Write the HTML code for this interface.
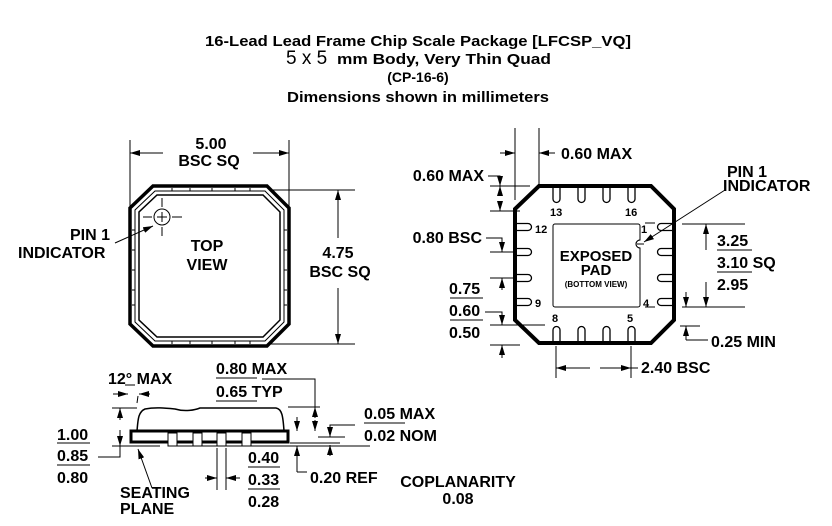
<!DOCTYPE html>
<html><head><meta charset="utf-8"><style>
html,body{margin:0;padding:0;background:#fff;}
svg{display:block;}
text{font-family:"Liberation Sans",Arial,sans-serif;font-weight:bold;fill:#000;}
</style></head><body>
<svg width="832" height="526" viewBox="0 0 832 526" xmlns="http://www.w3.org/2000/svg">
<defs>
<marker id="a" viewBox="0 0 10 6" refX="10" refY="3" markerWidth="10" markerHeight="6" markerUnits="userSpaceOnUse" orient="auto"><path d="M0,0 L10,3 L0,6 z" fill="#000"/></marker>
</defs>
<!-- Title -->
<g text-anchor="middle">
<text x="418" y="46" font-size="15" textLength="426" lengthAdjust="spacingAndGlyphs">16-Lead Lead Frame Chip Scale Package [LFCSP_VQ]</text>
<text x="286" y="64" font-size="19" style="font-weight:normal" text-anchor="start">5 x 5</text>
<text x="337" y="64" font-size="15" text-anchor="start" textLength="214" lengthAdjust="spacingAndGlyphs">mm Body, Very Thin Quad</text>
<text x="418" y="82" font-size="14">(CP-16-6)</text>
<text x="418" y="102" font-size="15" textLength="262" lengthAdjust="spacingAndGlyphs">Dimensions shown in millimeters</text>
</g>

<g stroke="#000" fill="none" stroke-width="1">
<!-- TOP VIEW -->
<path d="M153,186 H267 L289,208 V324 L267,346 H153 L130,324 V208 Z" stroke-width="3.5"/>
<path d="M155,191 H265 L284,210 V322 L265,341 H155 L135,322 V210 Z"/>
<path d="M157,195 H263 L280,212 V320 L263,337 H157 L139,320 V212 Z" stroke-width="1.5"/>
<g stroke-width="1">
<path d="M172,188 v3 M190,188 v3 M212,188 v3 M235,188 v3 M250,188 v3 M172,341 v3 M190,341 v3 M212,341 v3 M235,341 v3 M250,341 v3"/>
<path d="M132,230 h3 M132,250 h3 M132,270 h3 M132,290 h3 M132,305 h3 M284,230 h3 M284,250 h3 M284,270 h3 M284,290 h3 M284,305 h3"/>
</g>
<circle cx="162" cy="217" r="8"/>
<path d="M157,217 h10 M162,212 v10 M143,217 h9 M172,217 h10 M162,198 v9 M162,227 v9"/>
<path d="M115,243 L153,226" marker-end="url(#a)"/>
<!-- 5.00 dim -->
<path d="M130,140 V210 M289,140 V210"/>
<path d="M163,153 H130" marker-end="url(#a)"/><path d="M253,153 H289" marker-end="url(#a)"/>
<!-- 4.75 dim -->
<path d="M270,190 H355 M270,344 H355"/>
<path d="M338,238 V190" marker-end="url(#a)"/><path d="M338,288 V344" marker-end="url(#a)"/>

<!-- BOTTOM VIEW -->
<path d="M539,186 H651 L674,209 V320 L651,343 H539 L515,320 V209 Z" stroke-width="4"/>
<g stroke-width="1.3">
<path d="M553,186 V199 a3.5,3.5 0 0 0 7,0 V186 M578,186 V199 a3.5,3.5 0 0 0 7,0 V186 M603,186 V199 a3.5,3.5 0 0 0 7,0 V186 M628,186 V199 a3.5,3.5 0 0 0 7,0 V186"/>
<path d="M553,343 V330 a3.5,3.5 0 0 1 7,0 V343 M578,343 V330 a3.5,3.5 0 0 1 7,0 V343 M603,343 V330 a3.5,3.5 0 0 1 7,0 V343 M628,343 V330 a3.5,3.5 0 0 1 7,0 V343"/>
<path d="M515,223.5 H528 a3.5,3.5 0 0 1 0,7 H515 M515,248.5 H528 a3.5,3.5 0 0 1 0,7 H515 M515,274.5 H528 a3.5,3.5 0 0 1 0,7 H515 M515,298.5 H528 a3.5,3.5 0 0 1 0,7 H515"/>
<path d="M674,223.5 H661 a3.5,3.5 0 0 0 0,7 H674 M674,248.5 H661 a3.5,3.5 0 0 0 0,7 H674 M674,274.5 H661 a3.5,3.5 0 0 0 0,7 H674 M674,298.5 H661 a3.5,3.5 0 0 0 0,7 H674"/>
</g>
<path d="M555,224 H638 a2,2 0 0 1 2,2 V240 a4,4 0 0 0 0,8 V305 a2,2 0 0 1 -2,2 H555 a2,2 0 0 1 -2,-2 V226 a2,2 0 0 1 2,-2 Z"/>
<path d="M640,240 a4,4 0 0 0 0,8 M637,244 h7"/>
<path d="M645,223 h10 M645,307 h10"/>
<path d="M725,190 L644,242" marker-end="url(#a)"/>
<!-- 0.60 MAX top -->
<path d="M515,128 V200 M539,128 V186"/>
<path d="M500,153 H515" marker-end="url(#a)"/><path d="M555,153 H539" marker-end="url(#a)"/>
<!-- 0.60 MAX left -->
<path d="M488,176 H500 V186" /><path d="M500,176 V186" marker-end="url(#a)"/>
<path d="M490,186 H530 M490,211 H520"/>
<path d="M500,196 V186" marker-end="url(#a)"/><path d="M500,201 V211" marker-end="url(#a)"/>
<!-- 0.80 BSC -->
<path d="M486,238 H502 V252" marker-end="url(#a)"/>
<path d="M490,252 H515 M490,278 H515"/>
<path d="M502,290 V278" marker-end="url(#a)"/>
<!-- 0.75/0.60/0.50 -->
<path d="M450,298 H483 M450,320 H483"/>
<path d="M485,312 H502 V325" marker-end="url(#a)"/>
<path d="M490,325 H545 M490,345 H520"/>
<path d="M502,358 V345" marker-end="url(#a)"/>
<!-- 3.25 SQ -->
<path d="M682,224 H745 M682,307 H745"/>
<path d="M706,250 V224" marker-end="url(#a)"/><path d="M706,282 V307" marker-end="url(#a)"/>
<path d="M717,250 H752 M717,272 H752"/>
<!-- 0.25 MIN -->
<path d="M680,326 H700"/>
<path d="M686,292 V307" marker-end="url(#a)"/><path d="M686,340 H708"/><path d="M686,340 V326" marker-end="url(#a)"/>
<!-- 2.40 BSC -->
<path d="M556,346 V378 M631,346 V378"/>
<path d="M590,368 H556" marker-end="url(#a)"/><path d="M600,368 H631" marker-end="url(#a)"/>
<path d="M631,368 H638"/>

<!-- SIDE VIEW -->
<path d="M137,431 C138,420 138,412 145,409 C155,407 165,408 175,409 C185,412 195,410 200,408 H276 C282,409 283,416 284,431" stroke-width="1.5"/>
<rect x="131" y="431" width="157" height="11" stroke-width="3"/>
<g fill="#fff" stroke-width="1"><rect x="168" y="433" width="9" height="13"/><rect x="193" y="433" width="9" height="13"/><rect x="217" y="433" width="9" height="13"/><rect x="242" y="433" width="9" height="13"/></g>
<path d="M112,446 H160 M170,446 H370 M290,443 H340" stroke-width="1"/>
<path d="M112,408 H137 M288,407 H320"/>
<path d="M120,420 V408" marker-end="url(#a)"/><path d="M120,430 V446" marker-end="url(#a)"/>
<path d="M98,457 H120 V446"/>
<path d="M125,385 H135 M137,403 L138,396" /><path d="M113,394 H128" marker-end="url(#a)"/><path d="M150,394 H139" marker-end="url(#a)"/>
<path d="M216,378 H257 M216,401 H257"/>
<path d="M262,379 H315 V407"/><path d="M315,418 V407" marker-end="url(#a)"/><path d="M315,420 V431" marker-end="url(#a)"/>
<path d="M297,417 V431" marker-end="url(#a)"/>
<path d="M297,472 H307 M297,472 V460"/><path d="M297,462 V446" marker-end="url(#a)"/>
<path d="M355,425 H330 V431" /><path d="M330,426 V437" marker-end="url(#a)"/><path d="M330,456 V445" marker-end="url(#a)"/>
<path d="M318,437 H345"/>
<path d="M364,423 H405"/>
<path d="M217,448 V490 M226,448 V490"/>
<path d="M205,478 H217" marker-end="url(#a)"/><path d="M240,478 H226" marker-end="url(#a)"/>
<path d="M248,467 H280 M248,489 H280"/>
<path d="M57,443 H90 M57,465 H90"/>
<path d="M152,488 L138,449" marker-end="url(#a)"/>
</g>

<g font-size="16">
<text x="211" y="149" text-anchor="middle">5.00</text>
<text x="209" y="166" text-anchor="middle">BSC SQ</text>
<text x="207" y="251" text-anchor="middle">TOP</text>
<text x="207" y="270" text-anchor="middle">VIEW</text>
<text x="110" y="240" text-anchor="end">PIN 1</text>
<text x="18" y="258">INDICATOR</text>
<text x="338" y="258" text-anchor="middle">4.75</text>
<text x="340" y="277" text-anchor="middle">BSC SQ</text>

<text x="561" y="159">0.60 MAX</text>
<text x="484" y="181" text-anchor="end">0.60 MAX</text>
<text x="482" y="243" text-anchor="end">0.80 BSC</text>
<text x="449" y="294">0.75</text>
<text x="449" y="316">0.60</text>
<text x="449" y="338">0.50</text>
<text x="717" y="246">3.25</text>
<text x="717" y="268">3.10 SQ</text>
<text x="717" y="290">2.95</text>
<text x="711" y="347">0.25 MIN</text>
<text x="641" y="373">2.40 BSC</text>
<text x="727" y="177">PIN 1</text>
<text x="723" y="191">INDICATOR</text>
<text x="596" y="261" text-anchor="middle" font-size="15">EXPOSED</text>
<text x="596" y="275" text-anchor="middle" font-size="15">PAD</text>
<text x="596" y="287" text-anchor="middle" font-size="8">(BOTTOM VIEW)</text>

<text x="108" y="384">12° MAX</text>
<text x="216" y="374">0.80 MAX</text>
<text x="216" y="397">0.65 TYP</text>
<text x="364" y="419">0.05 MAX</text>
<text x="364" y="441">0.02 NOM</text>
<text x="57" y="440">1.00</text>
<text x="57" y="461">0.85</text>
<text x="57" y="483">0.80</text>
<text x="248" y="463">0.40</text>
<text x="248" y="485">0.33</text>
<text x="248" y="507">0.28</text>
<text x="310" y="483">0.20 REF</text>
<text x="120" y="498">SEATING</text>
<text x="120" y="514">PLANE</text>
<text x="458" y="487" text-anchor="middle">COPLANARITY</text>
<text x="458" y="504" text-anchor="middle">0.08</text>
</g>
<g font-size="11">
<text x="550" y="216">13</text><text x="625" y="216">16</text>
<text x="535" y="233">12</text><text x="641" y="233">1</text>
<text x="535" y="307">9</text><text x="643" y="307">4</text>
<text x="552" y="322">8</text><text x="627" y="322">5</text>
</g>
</svg>
</body></html>
